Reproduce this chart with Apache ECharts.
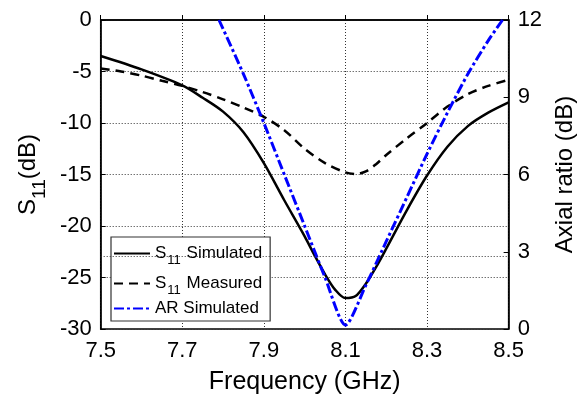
<!DOCTYPE html>
<html><head><meta charset="utf-8">
<script src="https://cdn.jsdelivr.net/npm/echarts@6/dist/echarts.min.js"></script>
<style>html,body{margin:0;padding:0;background:#fff}#c{width:585px;height:400px}</style>
</head><body><div id="c"></div>
<script>
// Data
const simFreq = [7.5,7.6,7.7,7.75,7.8,7.85,7.9,7.95,8.0,8.025,8.05,8.075,8.1,8.125,8.15,8.175,8.2,8.25,8.3,8.35,8.4,8.45,8.5];
const s11Simulated = [-3.5,-4.8,-6.35,-7.55,-8.9,-10.9,-13.9,-17.5,-21.0,-22.9,-24.7,-26.2,-27.0,-26.8,-25.6,-24.0,-22.2,-18.5,-15.1,-12.3,-10.3,-9.0,-8.0];
const measFreq = [7.5,7.55,7.6,7.65,7.7,7.75,7.8,7.85,7.9,7.95,8.0,8.05,8.1,8.125,8.15,8.175,8.2,8.25,8.3,8.35,8.4,8.45,8.5];
const s11Measured = [-4.7,-5.0,-5.4,-5.9,-6.4,-7.0,-7.7,-8.5,-9.4,-10.7,-12.5,-13.9,-14.8,-14.95,-14.7,-14.0,-13.1,-11.5,-10.0,-8.4,-7.2,-6.4,-5.8];
const arFreq = [7.79,7.85,7.9,7.95,8.0,8.05,8.1,8.15,8.2,8.25,8.3,8.35,8.4,8.45,8.485];
const arSimulated = [12.0,9.9,8.0,6.0,4.0,2.0,0.15,1.7,3.4,5.1,6.8,8.4,9.9,11.2,12.0];
const extraGridLeft = -22.9;

const pairs = (xs, ys) => xs.map((x, i) => [x, ys[i]]);
const FONT = '"Liberation Sans", Arial, Helvetica, sans-serif';
const chart = echarts.init(document.getElementById('c'), null, {renderer: 'canvas'});
const legendNames = {
  'S11 Simulated': '{t|S}{sub|11}{t| Simulated}',
  'S11 Measured': '{t|S}{sub|11}{t| Measured}',
  'AR Simulated': '{t|AR Simulated}'
};
const gridDots = {type: [1, 2], color: '#333', width: 1};
chart.setOption({
  animation: false,
  textStyle: {fontFamily: FONT},
  grid: {left: 98, right: 72, top: 20, bottom: 65, show: true, borderColor: '#000', borderWidth: 1.5, backgroundColor: 'rgba(0,0,0,0)'},
  legend: {
    orient: 'vertical', left: 111, top: 237,
    backgroundColor: '#fff', borderColor: '#333', borderWidth: 1.2,
    padding: [3, 8, 4, 2], itemGap: 3, itemWidth: 36, itemHeight: 14,
    itemStyle: {opacity: 0},
    formatter: n => legendNames[n],
    textStyle: {fontFamily: FONT, fontSize: 17, color: '#000',
      rich: {t: {fontSize: 17, lineHeight: 17, fontFamily: FONT, color: '#000'},
             sub: {fontSize: 13, lineHeight: 13, fontFamily: FONT, color: '#000', padding: [14, 1, 0, 1]}}}
  },
  xAxis: {
    type: 'value', min: 7.5, max: 8.5, interval: 0.2,
    name: 'Frequency (GHz)', nameLocation: 'middle', nameGap: 41,
    nameTextStyle: {fontSize: 25, color: '#000', fontFamily: FONT},
    axisLine: {lineStyle: {color: '#000', width: 1.5}},
    axisTick: {inside: true, length: 5, lineStyle: {color: '#000'}},
    axisLabel: {fontSize: 22, color: '#000', margin: 11, fontFamily: FONT, formatter: v => v.toFixed(1)},
    splitLine: {show: true, lineStyle: gridDots}
  },
  yAxis: [{
    type: 'value', min: -30, max: 0, interval: 5, position: 'left',
    name: '{t|S}{sub|11}{t|(dB)}', nameLocation: 'middle', nameGap: 53, nameRotate: 90,
    nameTextStyle: {fontSize: 24, color: '#000', fontFamily: FONT,
      rich: {t: {fontSize: 24, fontFamily: FONT, color: '#000'},
             sub: {fontSize: 19, lineHeight: 19, fontFamily: FONT, color: '#000', padding: [22, 0, 0, 0]}}},
    axisLine: {show: true, lineStyle: {color: '#000', width: 1.5}},
    axisTick: {show: true, inside: true, length: 5, lineStyle: {color: '#000'}},
    axisLabel: {fontSize: 22, color: '#000', margin: 9, fontFamily: FONT},
    splitLine: {show: true, lineStyle: gridDots}
  }, {
    type: 'value', min: 0, max: 12, interval: 3, position: 'right',
    name: 'Axial ratio (dB)', nameLocation: 'middle', nameGap: 44, nameRotate: 90,
    nameTextStyle: {fontSize: 24, color: '#000', fontFamily: FONT},
    axisLine: {show: true, lineStyle: {color: '#000', width: 1.5}},
    axisTick: {show: true, inside: true, length: 5, lineStyle: {color: '#000'}},
    axisLabel: {fontSize: 22, color: '#000', margin: 9, fontFamily: FONT},
    splitLine: {show: false}
  }],
  series: [{
    name: 'S11 Simulated', type: 'line', yAxisIndex: 0, smooth: 0.3, symbol: 'none',
    data: pairs(simFreq, s11Simulated),
    lineStyle: {color: '#000', width: 2.5}, itemStyle: {color: '#000'},
    markLine: {silent: true, symbol: 'none', label: {show: false},
      lineStyle: gridDots,
      data: [{yAxis: extraGridLeft}]}
  }, {
    name: 'S11 Measured', type: 'line', yAxisIndex: 0, smooth: 0.3, symbol: 'none',
    data: pairs(measFreq, s11Measured),
    lineStyle: {color: '#000', width: 2.5, type: [9, 6]}, itemStyle: {color: '#000'}
  }, {
    name: 'AR Simulated', type: 'line', yAxisIndex: 1, smooth: 0.25, symbol: 'none',
    data: pairs(arFreq, arSimulated),
    lineStyle: {color: '#0000ff', width: 3, type: [10, 3, 3, 3]}, itemStyle: {color: '#0000ff'}
  }]
});
</script></body></html>
